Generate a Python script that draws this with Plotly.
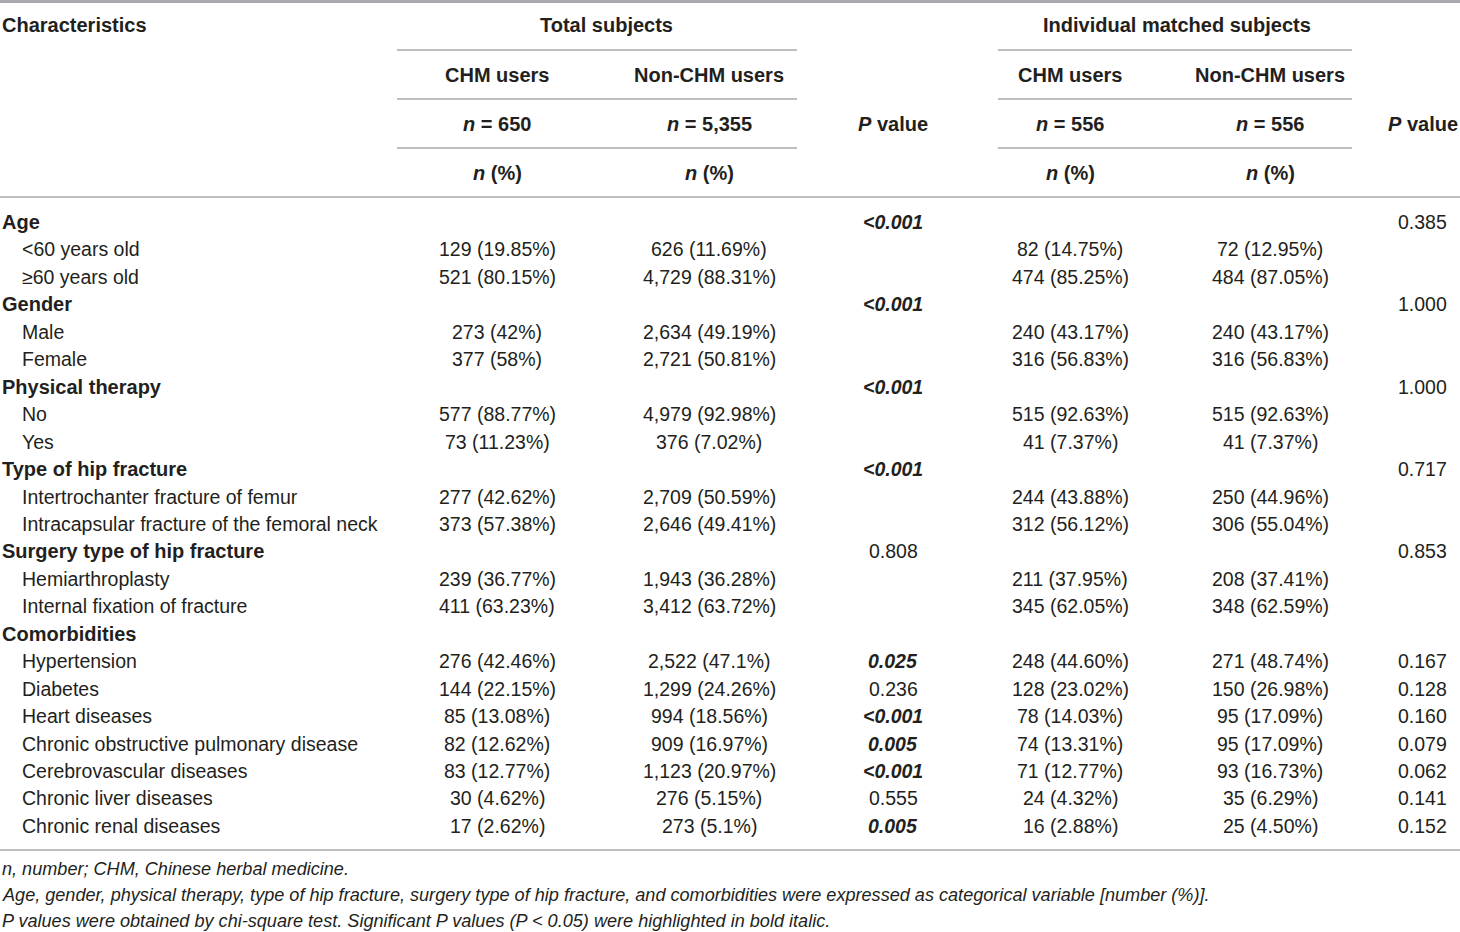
import plotly.graph_objects as go

# table content
labels = ["Age", "<60 years old", "≥60 years old",
          "Gender", "Male", "Female",
          "Physical therapy", "No", "Yes",
          "Type of hip fracture", "Intertrochanter fracture of femur",
          "Intracapsular fracture of the femoral neck",
          "Surgery type of hip fracture", "Hemiarthroplasty", "Internal fixation of fracture",
          "Comorbidities", "Hypertension", "Diabetes", "Heart diseases",
          "Chronic obstructive pulmonary disease", "Cerebrovascular diseases",
          "Chronic liver diseases", "Chronic renal diseases"]
is_group = [1, 0, 0, 1, 0, 0, 1, 0, 0, 1, 0, 0, 1, 0, 0, 1, 0, 0, 0, 0, 0, 0, 0]

chm_total = ["", "129 (19.85%)", "521 (80.15%)", "", "273 (42%)", "377 (58%)",
             "", "577 (88.77%)", "73 (11.23%)", "", "277 (42.62%)", "373 (57.38%)",
             "", "239 (36.77%)", "411 (63.23%)", "", "276 (42.46%)", "144 (22.15%)",
             "85 (13.08%)", "82 (12.62%)", "83 (12.77%)", "30 (4.62%)", "17 (2.62%)"]
non_total = ["", "626 (11.69%)", "4,729 (88.31%)", "", "2,634 (49.19%)", "2,721 (50.81%)",
             "", "4,979 (92.98%)", "376 (7.02%)", "", "2,709 (50.59%)", "2,646 (49.41%)",
             "", "1,943 (36.28%)", "3,412 (63.72%)", "", "2,522 (47.1%)", "1,299 (24.26%)",
             "994 (18.56%)", "909 (16.97%)", "1,123 (20.97%)", "276 (5.15%)", "273 (5.1%)"]
p_total = ["<0.001", "", "", "<0.001", "", "", "<0.001", "", "", "<0.001", "", "",
           "0.808", "", "", "", "0.025", "0.236", "<0.001", "0.005", "<0.001", "0.555", "0.005"]
p_total_sig = [1, 0, 0, 1, 0, 0, 1, 0, 0, 1, 0, 0, 0, 0, 0, 0, 1, 0, 1, 1, 1, 0, 1]

chm_matched = ["", "82 (14.75%)", "474 (85.25%)", "", "240 (43.17%)", "316 (56.83%)",
               "", "515 (92.63%)", "41 (7.37%)", "", "244 (43.88%)", "312 (56.12%)",
               "", "211 (37.95%)", "345 (62.05%)", "", "248 (44.60%)", "128 (23.02%)",
               "78 (14.03%)", "74 (13.31%)", "71 (12.77%)", "24 (4.32%)", "16 (2.88%)"]
non_matched = ["", "72 (12.95%)", "484 (87.05%)", "", "240 (43.17%)", "316 (56.83%)",
               "", "515 (92.63%)", "41 (7.37%)", "", "250 (44.96%)", "306 (55.04%)",
               "", "208 (37.41%)", "348 (62.59%)", "", "271 (48.74%)", "150 (26.98%)",
               "95 (17.09%)", "95 (17.09%)", "93 (16.73%)", "35 (6.29%)", "25 (4.50%)"]
p_matched = ["0.385", "", "", "1.000", "", "", "1.000", "", "", "0.717", "", "",
             "0.853", "", "", "", "0.167", "0.128", "0.160", "0.079", "0.062", "0.141", "0.152"]

footnotes = ["n, number; CHM, Chinese herbal medicine.",
             "Age, gender, physical therapy, type of hip fracture, surgery type of hip fracture, "
             "and comorbidities were expressed as categorical variable [number (%)].",
             "P values were obtained by chi-square test. Significant P values (P < 0.05) "
             "were highlighted in bold italic."]

FONT = "Liberation Sans"
TXT = "#231f20"
LINE = "#a7a9ac"
FS = 19.5

col_x = [497, 709, 893, 1070, 1270, 1422]
row_y0, row_dy = 222, 27.45

fig = go.Figure()
ann = []


def add(x, y, text, anchor="center", size=FS):
    ann.append(dict(x=x, y=y, xref="x", yref="y", text=text, showarrow=False,
                    xanchor=anchor, yanchor="middle",
                    font=dict(family=FONT, size=size, color=TXT)))


# header
HS = 20
add(0, 25, "<b>Characteristics</b>", "left", HS)
add(606, 25, "<b>Total subjects</b>", size=HS)
add(1177, 25, "<b>Individual matched subjects</b>", size=HS)
for cx in [col_x[0], col_x[3]]:
    add(cx, 75, "<b>CHM users</b>", size=HS)
for cx in [col_x[1], col_x[4]]:
    add(cx, 75, "<b>Non-CHM users</b>", size=HS)
add(col_x[0], 124, "<b><i>n</i> = 650</b>", size=HS)
add(col_x[1], 124, "<b><i>n</i> = 5,355</b>", size=HS)
add(col_x[3], 124, "<b><i>n</i> = 556</b>", size=HS)
add(col_x[4], 124, "<b><i>n</i> = 556</b>", size=HS)
add(col_x[2], 124, "<b><i>P</i> value</b>", size=HS)
add(1423, 124, "<b><i>P</i> value</b>", size=HS)
for cx in [col_x[0], col_x[1], col_x[3], col_x[4]]:
    add(cx, 173, "<b><i>n</i> (%)</b>", size=HS)

# body
for i, lab in enumerate(labels):
    y = row_y0 + i * row_dy
    if is_group[i]:
        add(0, y, "<b>" + lab + "</b>", "left", HS)
    else:
        add(20, y, lab.replace("<", "&lt;"), "left")
    if chm_total[i]:
        add(col_x[0], y, chm_total[i])
        add(col_x[1], y, non_total[i])
        add(col_x[3], y, chm_matched[i])
        add(col_x[4], y, non_matched[i])
    if p_total[i]:
        t = p_total[i].replace("<", "&lt;")
        add(col_x[2], y, "<b><i>" + t + "</i></b>" if p_total_sig[i] else t)
    if p_matched[i]:
        add(col_x[5], y, p_matched[i])

for k, note in enumerate(footnotes):
    add(0, 869 + k * 26, "<i>" + note.replace("<", "&lt;") + "</i>", "left", 18.1)

# rules
shapes = [dict(type="line", x0=0, x1=1460, y0=1.5, y1=1.5, line=dict(color=LINE, width=3)),
          dict(type="line", x0=0, x1=1460, y0=197, y1=197, line=dict(color=LINE, width=1.5)),
          dict(type="line", x0=0, x1=1460, y0=850, y1=850, line=dict(color=LINE, width=1.5))]
for yy in [50, 99, 148]:
    for x0, x1 in [(397, 797), (998, 1352)]:
        shapes.append(dict(type="line", x0=x0, x1=x1, y0=yy, y1=yy,
                           line=dict(color=LINE, width=1.5)))

fig.update_layout(width=1460, height=932, margin=dict(l=0, r=0, t=0, b=0),
                  paper_bgcolor="white", plot_bgcolor="white",
                  xaxis=dict(range=[0, 1460], visible=False, fixedrange=True),
                  yaxis=dict(range=[932, 0], visible=False, fixedrange=True),
                  annotations=ann, shapes=shapes, showlegend=False)
fig.write_html("out.html", config={"displayModeBar": False},
               post_script="document.body.style.margin='0';")
